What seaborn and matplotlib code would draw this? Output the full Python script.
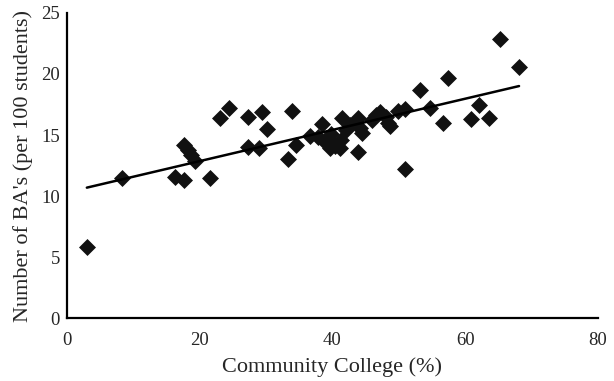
import seaborn as sns
import matplotlib.pyplot as plt
import pandas as pd

# Share of students starting at community college vs BA's per 100 students
cc_pct = [3.0, 8.3, 16.3, 17.6, 17.6, 18.2, 18.7, 19.3, 21.5, 23.0,
          24.4, 27.3, 27.3, 28.9, 29.4, 30.1, 33.3, 33.9, 34.5, 36.6,
          38.4, 37.8, 38.9, 39.6, 39.8, 40.4, 41.1, 41.4, 41.3, 42.0,
          42.6, 43.5, 43.8, 43.8, 44.1, 44.4, 45.9, 46.5, 47.1, 48.0,
          48.3, 48.6, 49.8, 50.9, 50.9, 53.2, 54.7, 56.6, 57.4, 60.8,
          62.0, 63.6, 65.2, 68.1]
ba_rate = [5.8, 11.5, 11.6, 11.3, 14.2, 13.8, 13.4, 12.9, 11.5, 16.4,
           17.2, 14.0, 16.5, 13.9, 16.9, 15.5, 13.0, 17.0, 14.2, 14.9,
           15.9, 14.8, 14.4, 13.9, 15.1, 14.1, 13.9, 16.4, 14.6, 15.4,
           15.8, 16.1, 16.4, 13.6, 15.6, 15.2, 16.2, 16.6, 16.9, 16.5,
           16.0, 15.7, 17.0, 17.1, 12.2, 18.7, 17.2, 16.0, 19.7, 16.3,
           17.5, 16.4, 22.9, 20.6]

df = pd.DataFrame({'cc': cc_pct, 'ba': ba_rate})

sns.set_style('white')
plt.rcParams['font.family'] = ['Liberation Serif', 'DejaVu Serif']

fig = plt.figure(figsize=(6.14, 3.81), dpi=100)
ax = fig.add_axes([0.109, 0.165, 0.865, 0.801])

sns.regplot(data=df, x='cc', y='ba', ci=None, ax=ax,
            marker='D', color='#111111',
            scatter_kws={'s': 75, 'linewidths': 0, 'alpha': 1},
            line_kws={'color': 'black', 'linewidth': 1.8})

ax.set_xlim(0, 80)
ax.set_ylim(0, 25)
ax.set_xticks([0, 20, 40, 60, 80])
ax.set_yticks([0, 5, 10, 15, 20, 25])
ax.tick_params(length=0, labelsize=13.5)
ax.tick_params(axis='x', pad=10)
ax.tick_params(axis='y', pad=5)
ax.set_xlabel('Community College (%)', fontsize=16, labelpad=6)
ax.set_ylabel("Number of BA's (per 100 students)", fontsize=16, labelpad=6)

sns.despine(ax=ax)
for s in ['left', 'bottom']:
    ax.spines[s].set_color('black')
    ax.spines[s].set_linewidth(1.6)

fig.savefig('out.png', dpi=100)
